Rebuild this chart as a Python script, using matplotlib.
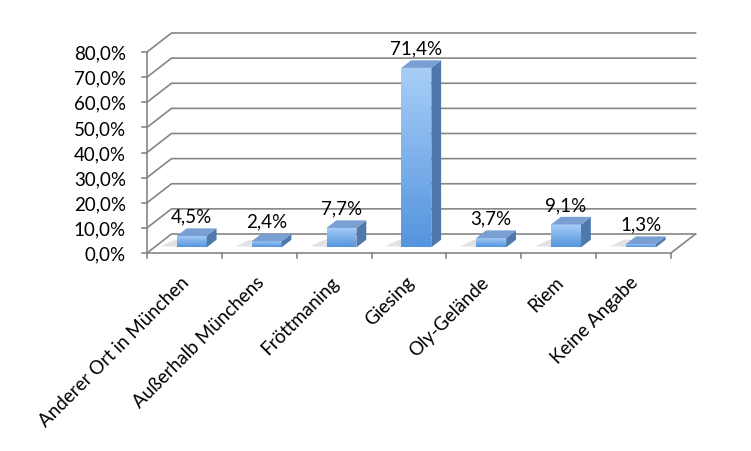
import matplotlib
matplotlib.use("Agg")
import matplotlib.pyplot as plt
import numpy as np
from matplotlib.patches import Polygon
from matplotlib.image import BboxImage
from matplotlib.transforms import Bbox, IdentityTransform

categories = ["Anderer Ort in München", "Außerhalb Münchens", "Fröttmaning", "Giesing",
              "Oly-Gelände", "Riem", "Keine Angabe"]
values = [4.5, 2.4, 7.7, 71.4, 3.7, 9.1, 1.3]
value_labels = ["4,5%", "2,4%", "7,7%", "71,4%", "3,7%", "9,1%", "1,3%"]
yticks = [0, 10, 20, 30, 40, 50, 60, 70, 80]
ytick_labels = ["%d,0%%" % t for t in yticks]

plt.rcParams['font.family'] = ['Lato', 'DejaVu Sans']

W, H = 751, 451
fig = plt.figure(figsize=(W / 100, H / 100), dpi=100)
# front plane of the 3d box
ax = fig.add_axes([147 / W, 198 / H, 524 / W, 201 / H])
ax.set_xlim(-0.5, len(categories) - 0.5)
ax.set_ylim(0, 80)
ax.axis('off')

DX, DY = 24.5, 19.0   # full depth offset in pixels
ident = IdentityTransform()
grid_col = '#868686'
fs = 13.5


def proj(x, y, d=0.0):
    px, py = ax.transData.transform((x, y))
    return np.array([px + d * DX, py + d * DY])


def line(pts, **kw):
    pts = np.array(pts)
    fig.add_artist(plt.Line2D(pts[:, 0], pts[:, 1], transform=ident, zorder=1, **kw))


x0, x1 = -0.5, len(categories) - 0.5

# walls / gridlines
for t in yticks:
    line([proj(x0, t, 0), proj(x0, t, 1), proj(x1, t, 1)], color=grid_col, lw=1.2)
# floor
line([proj(x0, 0, 0), proj(x1, 0, 0), proj(x1, 0, 1)], color=grid_col, lw=1.2)
# front vertical axis
line([proj(x0, 0, 0), proj(x0, 80, 0)], color=grid_col, lw=1.2)

# y ticks + labels
for t, lab in zip(yticks, ytick_labels):
    p = proj(x0, t, 0)
    line([p, p + [-5, 0]], color=grid_col, lw=1.2)
    fig.text(p[0] - 21, p[1] - 2, lab, transform=ident, ha='right', va='center', fontsize=fs)

# x ticks
for i in range(len(categories) + 1):
    p = proj(x0 + i, 0, 0)
    line([p, p + [0, -5]], color=grid_col, lw=1.2)

# x labels
for i, lab in enumerate(categories):
    p = proj(i, 0, 0)
    fig.text(p[0] + 2, p[1] - 27, lab, transform=ident, ha='right', va='center',
             rotation=45, rotation_mode='anchor', fontsize=fs)

# bars
bw = 0.4
d0, d1 = 0.3, 0.7
grad = np.linspace(1, 0, 256).reshape(-1, 1)
front_top = np.array([0.66, 0.81, 0.97])
front_bot = np.array([0.33, 0.58, 0.87])
rgb = front_bot + (front_top - front_bot) * grad
rgb = np.repeat(rgb[:, None, :], 2, axis=1)
for i, (v, lab) in enumerate(zip(values, value_labels)):
    a = proj(i - bw / 2, 0, d0)
    b = proj(i + bw / 2, 0, d0)
    c = proj(i + bw / 2, v, d0)
    e = proj(i - bw / 2, v, d0)
    # shadow on the floor
    sh = Polygon([a + [-16, 1], b, proj(i + bw / 2, 0, d1), proj(i - bw / 2, 0, d1) + [-12, 0]],
                 closed=True, transform=ident, facecolor='#e2e2e2', edgecolor='none', zorder=2)
    fig.add_artist(sh)
    # front face with vertical gradient
    front = Polygon([a, b, c, e], closed=True, transform=ident, facecolor='none',
                    edgecolor='none', zorder=3)
    fig.add_artist(front)
    bimg = BboxImage(Bbox([[a[0], a[1]], [c[0], c[1]]]), interpolation='bilinear', zorder=3)
    bimg.set_data(rgb)
    bimg.set_clip_path(front)
    fig.add_artist(bimg)
    # side face
    side = Polygon([b, proj(i + bw / 2, 0, d1), proj(i + bw / 2, v, d1), c], closed=True,
                   transform=ident, facecolor='#4f78ad', edgecolor='none', zorder=3)
    fig.add_artist(side)
    # top face
    top = Polygon([e, c, proj(i + bw / 2, v, d1), proj(i - bw / 2, v, d1)], closed=True,
                  transform=ident, facecolor='#7a9fd2', edgecolor='none', zorder=3)
    fig.add_artist(top)
    # value label
    pc = (e + c) / 2
    fig.text(pc[0], pc[1] + 19, lab, transform=ident, ha='center', va='center',
             fontsize=fs, zorder=4)

fig.savefig('out.png', dpi=100)
